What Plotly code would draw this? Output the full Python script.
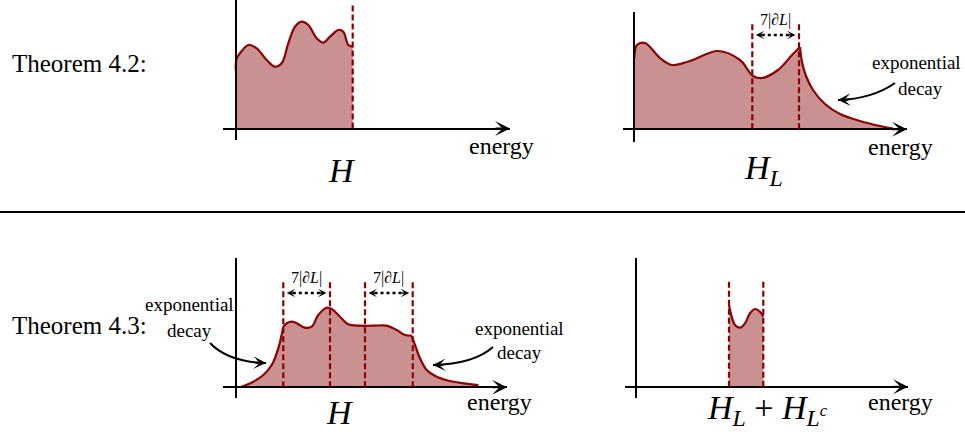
import plotly.graph_objects as go

W, H = 965, 437
DARK = "#8B0000"
FILL = "rgb(201,145,145)"
FONT = "Liberation Serif"
UNIT = 10.0  # pixels per data unit (energy and density)

# ---------------- data (energy, density) ----------------
# Theorem 4.2, left: spectrum of H (hard cutoff)
p1_energy = [0.0, 0.1, 0.43, 1.26, 2.1, 3.1, 3.93, 4.6, 5.26, 5.93, 6.6, 7.26, 8.1,
             8.76, 9.43, 10.26, 10.76, 11.26, 11.7]
p1_density = [5.85, 7.02, 7.52, 8.35, 8.02, 6.85, 6.18, 6.52, 8.52, 10.18, 10.68, 10.35,
              9.02, 8.58, 9.18, 9.85, 9.68, 8.35, 8.18]
p1_cutoffs = [11.7]
p1_cut_top = 12.58

# Theorem 4.2, right: spectrum of H_L
p2_body_energy = [0.0, 0.27, 1.07, 2.57, 3.77, 5.57, 8.37, 10.57, 11.87, 12.77, 14.37, 15.77, 16.57]
p2_body_density = [7.13, 8.43, 8.63, 7.13, 6.43, 6.83, 7.83, 6.93, 5.33, 5.13, 5.93, 7.43, 8.23]
p2_tail_energy = [16.57, 16.77, 17.17, 17.87, 19.07, 20.57, 22.57, 24.57, 25.87]
p2_tail_density = [8.23, 6.73, 5.33, 3.93, 2.53, 1.53, 0.83, 0.33, 0.08]
p2_cutoffs = [11.8, 16.47]
p2_cut_top = 10.63
p2_bracket = [(11.8, 16.47)]

# Theorem 4.3, left: spectrum of H
p3_rise_energy = [0.4, 1.73, 2.73, 3.57, 4.23, 4.73]
p3_rise_density = [0.0, 0.56, 1.23, 2.23, 3.9, 6.06]
p3_body_energy = [4.73, 5.07, 5.57, 6.07, 6.9, 7.57, 8.23, 9.07, 9.57, 10.4, 11.23,
                  12.4, 13.73, 15.07, 16.07, 16.9, 17.57]
p3_body_density = [6.06, 6.4, 6.56, 6.4, 5.96, 6.06, 7.23, 7.96, 7.83, 7.06, 6.3,
                   6.16, 6.16, 6.16, 5.73, 5.23, 5.16]
p3_tail_energy = [17.57, 17.9, 18.4, 19.07, 20.07, 21.4, 22.73, 24.23]
p3_tail_density = [5.16, 4.23, 2.9, 1.73, 1.06, 0.63, 0.4, 0.23]
p3_cutoffs = [4.73, 9.4, 12.9, 17.67]
p3_cut_top = 10.53
p3_bracket = [(4.73, 9.4), (12.9, 17.67)]

# Theorem 4.3, right: spectrum of H_L + H_{L^c}
p4_energy = [9.3, 9.57, 9.9, 10.4, 10.9, 11.4, 11.9, 12.4, 12.73]
p4_density = [8.17, 7.0, 6.17, 5.9, 6.34, 7.34, 7.77, 7.5, 7.0]
p4_cutoffs = [9.3, 12.73]
p4_cut_top = 10.5

bracket_level = 9.43
bracket_label = "7|∂<i>L</i>|"

# ---------------- layout geometry (pixels) ----------------
# ox: y-axis x position, oy: x-axis y position, xa: x-axis extent, ya: y-axis extent
geom = {
    1: dict(ox=235.7, oy=128.5, xa=(223, 510), ya=(0, 140)),
    2: dict(ox=634.3, oy=129.3, xa=(623, 907), ya=(12, 142)),
    3: dict(ox=236.0, oy=387.3, xa=(223, 507), ya=(258, 398)),
    4: dict(ox=636.0, oy=386.7, xa=(625, 908), ya=(258, 398)),
}


def PX(x):
    return x / W


def PY(y):
    return 1 - y / H


fig = go.Figure()
layout = dict(
    width=W, height=H, margin=dict(l=0, r=0, t=0, b=0),
    paper_bgcolor="white", plot_bgcolor="rgba(0,0,0,0)",
    showlegend=False, autosize=False,
)
annotations = []
shapes = []

for i, g in geom.items():
    sx = "" if i == 1 else str(i)
    ox, oy = g["ox"], g["oy"]
    xr = [(g["xa"][0] - ox) / UNIT, (g["xa"][1] - ox) / UNIT]
    yr = [(oy - g["ya"][1]) / UNIT, (oy - g["ya"][0]) / UNIT]
    layout["xaxis" + sx] = dict(
        domain=[PX(g["xa"][0]), PX(g["xa"][1])], range=xr, anchor="free",
        position=PY(oy), showline=True, linewidth=2, linecolor="black",
        showgrid=False, zeroline=False, showticklabels=False, ticks="",
        layer="above traces", fixedrange=True,
    )
    layout["yaxis" + sx] = dict(
        domain=[PY(g["ya"][1]), PY(g["ya"][0])], range=yr, anchor="free",
        position=PX(ox), showline=True, linewidth=2, linecolor="black",
        showgrid=False, zeroline=False, showticklabels=False, ticks="",
        layer="above traces", fixedrange=True,
    )
    # arrow head at the end of the energy axis
    annotations.append(dict(
        xref="x" + sx, yref="y" + sx, x=xr[1], y=0, ax=-16, ay=0,
        text="", showarrow=True, arrowhead=3, arrowsize=1.25, arrowwidth=2,
        arrowcolor="black", standoff=0,
    ))


def curve(xs, ys, i):
    sx = "" if i == 1 else str(i)
    fig.add_trace(go.Scatter(
        x=xs, y=ys, xaxis="x" + sx, yaxis="y" + sx, mode="lines",
        line=dict(color=DARK, width=2.2, shape="spline", smoothing=1.0),
        fill="tozeroy", fillcolor=FILL, hoverinfo="skip",
    ))


def cutoffs(cuts, top, i):
    sx = "" if i == 1 else str(i)
    for c in cuts:
        shapes.append(dict(
            type="line", xref="x" + sx, yref="y" + sx, x0=c, x1=c, y0=0, y1=top,
            line=dict(color=DARK, width=2.2, dash="6px,3px"), layer="above",
        ))


def brackets(pairs, i):
    sx = "" if i == 1 else str(i)
    for a, b in pairs:
        a2, b2 = a + 0.35, b - 0.35
        shapes.append(dict(
            type="line", xref="x" + sx, yref="y" + sx, x0=a2 + 0.6, x1=b2 - 0.6,
            y0=bracket_level, y1=bracket_level,
            line=dict(color="black", width=2.4, dash="dot"), layer="above",
        ))
        for tip, off in ((a2, 9), (b2, -9)):
            annotations.append(dict(
                xref="x" + sx, yref="y" + sx, x=tip, y=bracket_level, ax=off, ay=0,
                text="", showarrow=True, arrowhead=3, arrowsize=1.1, arrowwidth=1.3,
                arrowcolor="black", standoff=0,
            ))
        annotations.append(dict(
            xref="x" + sx, yref="y" + sx, x=(a + b) / 2, y=bracket_level + 1.55,
            text=bracket_label, showarrow=False, xanchor="center", yanchor="middle",
            font=dict(family=FONT, size=16, color="black"),
        ))


curve(p1_energy, p1_density, 1)
cutoffs(p1_cutoffs, p1_cut_top, 1)

curve(p2_body_energy, p2_body_density, 2)
curve(p2_tail_energy, p2_tail_density, 2)
cutoffs(p2_cutoffs, p2_cut_top, 2)
brackets(p2_bracket, 2)

curve(p3_rise_energy, p3_rise_density, 3)
curve(p3_body_energy, p3_body_density, 3)
curve(p3_tail_energy, p3_tail_density, 3)
cutoffs(p3_cutoffs, p3_cut_top, 3)
brackets(p3_bracket, 3)

curve(p4_energy, p4_density, 4)
cutoffs(p4_cutoffs, p4_cut_top, 4)

# divider
shapes.append(dict(type="line", xref="paper", yref="paper", x0=0, x1=1,
                   y0=PY(212), y1=PY(212), line=dict(color="black", width=2)))

# curved "exponential decay" arrows (pixel start, control, end)
curved = [((895, 83), (872, 99), (838, 100)),
          ((210, 343), (228, 362), (266, 363)),
          ((493, 347), (474, 364), (433, 365))]
for (x0, y0), (cx, cy), (x1, y1) in curved:
    shapes.append(dict(
        type="path", xref="paper", yref="paper",
        path=f"M {PX(x0)},{PY(y0)} Q {PX(cx)},{PY(cy)} {PX(x1)},{PY(y1)}",
        line=dict(color="black", width=2),
    ))
    dx, dy = x1 - cx, y1 - cy
    n = (dx * dx + dy * dy) ** 0.5
    annotations.append(dict(
        xref="paper", yref="paper", x=PX(x1), y=PY(y1),
        ax=-dx / n * 12, ay=-dy / n * 12, text="", showarrow=True,
        arrowhead=3, arrowsize=1.05, arrowwidth=2, arrowcolor="black", standoff=0,
    ))

# texts (pixel centre, text, size)
texts = [
    ((79, 64), "Theorem 4.2:", 25),
    ((79, 325), "Theorem 4.3:", 25),
    ((501, 146), "energy", 24),
    ((900, 147), "energy", 24),
    ((500, 402), "energy", 24),
    ((900, 402), "energy", 24),
    ((342, 170), "<i>H</i>", 34),
    ((763, 170), "<i>H</i><sub><i>L</i></sub>", 34),
    ((340, 412), "<i>H</i>", 34),
    ((767, 410), "<i>H</i><sub><i>L</i></sub> + <i>H</i><sub><i>L</i><sup><i>c</i></sup></sub>", 34),
    ((916, 63), "exponential", 19),
    ((920, 88), "decay", 19),
    ((189, 304), "exponential", 19),
    ((189, 330), "decay", 19),
    ((519, 328), "exponential", 19),
    ((519, 352), "decay", 19),
]
for (x, y), t, s in texts:
    annotations.append(dict(
        xref="paper", yref="paper", x=PX(x), y=PY(y), text=t, showarrow=False,
        xanchor="center", yanchor="middle", font=dict(family=FONT, size=s, color="black"),
    ))

layout["annotations"] = annotations
layout["shapes"] = shapes
fig.update_layout(**layout)
fig.write_html("out.html", config={"displayModeBar": False},
               post_script="document.body.style.margin='0';")
